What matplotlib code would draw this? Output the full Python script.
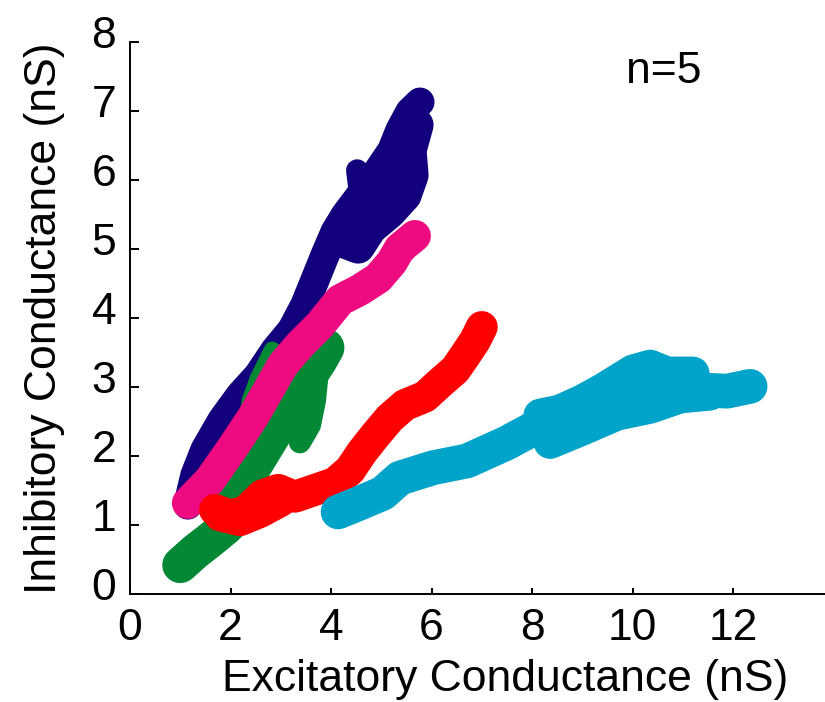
import matplotlib
matplotlib.use('Agg')
import matplotlib.pyplot as plt
import matplotlib.transforms as mtransforms

# hand-read trajectory traces (excitatory nS, inhibitory nS)
navy_x = [1.15, 1.29, 1.49, 1.83, 2.19, 2.55, 2.89, 3.22, 3.48, 3.68, 3.88, 4.08, 4.28, 4.58, 4.94, 5.21, 5.37, 5.57, 5.77]
navy_y = [1.29, 1.72, 2.09, 2.52, 2.88, 3.17, 3.54, 3.83, 4.19, 4.55, 4.91, 5.25, 5.49, 5.78, 6.14, 6.43, 6.72, 6.99, 7.13]
navy2_x = [4.18, 4.54, 4.78, 5.17, 5.47, 5.61, 5.57, 5.71]
navy2_y = [5.13, 5.03, 5.30, 5.54, 5.78, 6.07, 6.43, 6.80]
navy3_x = [4.52, 4.58, 4.90, 5.20]
navy3_y = [6.14, 5.78, 5.70, 6.00]

green_x = [1.00, 1.29, 1.59, 1.89, 2.15]
green_y = [0.42, 0.61, 0.78, 0.96, 1.14]
green2_x = [2.03, 2.39, 2.69, 2.99, 3.22, 3.48, 3.74, 3.88]
green2_y = [1.43, 1.80, 2.16, 2.52, 2.81, 3.10, 3.39, 3.57]
green3_x = [3.74, 3.68, 3.58, 3.38]
green3_y = [3.25, 2.81, 2.45, 2.20]
green4_x = [2.29, 2.39, 2.55, 2.83]
green4_y = [2.38, 2.81, 3.13, 3.54]

pink_x = [1.15, 1.59, 2.05, 2.45, 2.79, 3.04, 3.38, 3.78, 4.18, 4.58, 4.94, 5.21, 5.37, 5.57, 5.67]
pink_y = [1.32, 1.65, 2.13, 2.57, 3.00, 3.32, 3.61, 3.90, 4.26, 4.41, 4.58, 4.81, 5.01, 5.13, 5.19]

red_x = [1.69, 1.99, 2.29, 2.63, 2.95, 3.28, 3.68, 4.08, 4.38, 4.62, 4.88, 5.17, 5.47, 5.87, 6.17, 6.47, 6.67, 6.87, 7.00]
red_y = [1.22, 1.14, 1.19, 1.43, 1.51, 1.41, 1.51, 1.61, 1.80, 2.06, 2.30, 2.55, 2.74, 2.86, 3.06, 3.25, 3.46, 3.68, 3.87]
red2_x = [1.79, 2.19, 2.59, 3.00]
red2_y = [1.14, 1.07, 1.19, 1.35]

cyan_x = [4.14, 4.48, 5.03, 5.37, 6.03, 6.71, 7.50, 8.16, 9.01, 10.01, 10.69, 11.34, 11.88, 12.34]
cyan_y = [1.19, 1.29, 1.46, 1.68, 1.83, 1.93, 2.19, 2.45, 2.67, 2.93, 3.03, 2.96, 2.94, 3.01]
cyan2_x = [8.16, 8.56, 9.01, 9.41, 10.01, 10.35, 10.69, 11.20]
cyan2_y = [2.59, 2.65, 2.80, 2.96, 3.23, 3.30, 3.20, 3.20]
cyan3_x = [8.36, 8.96, 9.69, 10.35, 10.95, 11.54]
cyan3_y = [2.20, 2.38, 2.61, 2.71, 2.86, 2.90]

plt.rcParams['font.family'] = ['Liberation Sans', 'DejaVu Sans']

fig = plt.figure(figsize=(8.25, 7.02), dpi=100)
ax = fig.add_axes([0.1576, 0.1538, 0.8424, 0.7863])

def blob(xs, ys, col, lw):
    ax.plot(xs, ys, '-', color=col, lw=lw, solid_capstyle='round', solid_joinstyle='round')

navy = '#13007c'
green = '#038836'
pink = '#ee0a80'
red = '#ff0000'
cyan = '#00a3c9'

blob(navy_x, navy_y, navy, 21)
blob(navy2_x, navy2_y, navy, 24)
blob(navy3_x, navy3_y, navy, 16)
blob(green_x, green_y, green, 26)
blob(green2_x, green2_y, green, 28)
blob(green3_x, green3_y, green, 16)
blob(green4_x, green4_y, green, 12)
blob(pink_x, pink_y, pink, 23)
blob(red_x, red_y, red, 23)
blob(red2_x, red2_y, red, 23)
blob(cyan_x, cyan_y, cyan, 25)
blob(cyan2_x, cyan2_y, cyan, 24)
blob(cyan3_x, cyan3_y, cyan, 24)

ax.set_xlim(0, 13.83)
ax.set_ylim(0, 8)
ax.set_xticks([0, 2, 4, 6, 8, 10, 12])
ax.set_yticks(range(0, 9))
ax.spines['top'].set_visible(False)
ax.spines['right'].set_visible(False)
ax.spines['left'].set_linewidth(1.4)
ax.spines['bottom'].set_linewidth(1.4)
ax.tick_params(direction='in', width=1.4, labelsize=32, pad=10)
ax.tick_params(axis='x', length=4)
ax.tick_params(axis='y', length=6.5)
ax.set_xlabel('Excitatory Conductance (nS)', fontsize=32)
ax.set_ylabel('Inhibitory Conductance (nS)', fontsize=32)
ax.xaxis.set_label_coords(0.54, -0.118)
ax.yaxis.set_label_coords(-0.094, 0.5)
ax.text(10.63, 7.57, 'n=5', fontsize=32, ha='center', va='center')

# y tick labels sit a little above their ticks in the original
for lbl in ax.get_yticklabels():
    lbl.set_transform(lbl.get_transform() + mtransforms.ScaledTranslation(0, 0.1, fig.dpi_scale_trans))

plt.savefig('out.png', dpi=100)
